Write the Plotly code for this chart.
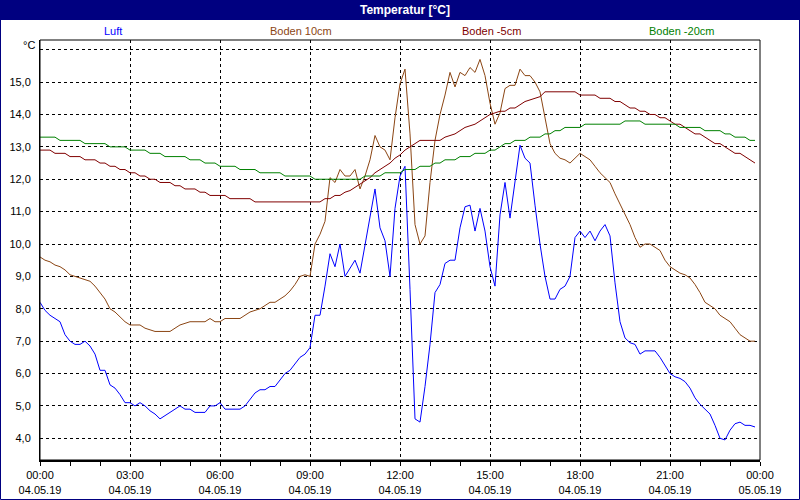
import plotly.graph_objects as go

# ---- data (10-minute readings, 04.05.19 00:00 .. 23:50) ----
times = ["2019-05-04 %02d:%02d" % (i // 6, (i % 6) * 10) for i in range(144)]

luft = [8.2, 7.95, 7.8, 7.7, 7.6, 7.2, 7.0, 6.9, 6.9, 7.0, 6.85, 6.6,
        6.1, 6.1, 5.65, 5.55, 5.35, 5.1, 5.1, 5.0, 5.1, 5.0, 4.85, 4.75,
        4.6, 4.7, 4.8, 4.9, 5.0, 4.9, 4.9, 4.8, 4.8, 4.8, 5.0, 5.0,
        5.1, 4.9, 4.9, 4.9, 4.9, 5.0, 5.2, 5.4, 5.5, 5.5, 5.6, 5.6,
        5.8, 6.0, 6.1, 6.3, 6.5, 6.6, 6.8, 7.8, 7.8, 8.7, 9.7, 9.3,
        10.0, 9.0, 9.25, 9.5, 9.1, 10.0, 10.9, 11.7, 10.5, 10.1, 9.0, 11.1,
        12.1, 12.4, 8.6, 4.6, 4.5, 5.6, 6.9, 8.5, 8.75, 9.4, 9.5, 9.5,
        10.5, 11.15, 11.2, 10.4, 11.1, 10.4, 9.3, 8.7, 10.9, 11.9, 10.8, 11.9,
        13.05, 12.65, 12.5, 11.2, 10.0, 9.0, 8.3, 8.3, 8.6, 8.7, 9.0, 10.2,
        10.4, 10.2, 10.4, 10.1, 10.4, 10.6, 10.25, 8.8, 7.6, 7.1, 6.95, 6.9,
        6.6, 6.7, 6.7, 6.7, 6.5, 6.25, 6.0, 5.9, 5.85, 5.75, 5.55, 5.25,
        5.05, 4.9, 4.75, 4.4, 4.0, 3.95, 4.25, 4.45, 4.5, 4.4, 4.4, 4.35]

boden_10 = [9.6, 9.5, 9.45, 9.35, 9.3, 9.2, 9.05, 9.0, 8.95, 8.9, 8.85, 8.7,
            8.5, 8.3, 8.0, 7.9, 7.75, 7.6, 7.5, 7.5, 7.5, 7.4, 7.35, 7.3,
            7.3, 7.3, 7.3, 7.4, 7.5, 7.55, 7.6, 7.6, 7.6, 7.6, 7.7, 7.6,
            7.6, 7.7, 7.7, 7.7, 7.7, 7.8, 7.9, 7.95, 8.0, 8.1, 8.2, 8.2,
            8.3, 8.4, 8.55, 8.75, 9.0, 9.05, 9.0, 10.0, 10.3, 10.7, 12.05, 11.9,
            12.3, 12.1, 12.1, 12.3, 11.7, 12.1, 12.6, 13.35, 13.0, 12.9, 12.6, 13.9,
            14.95, 15.4, 13.4, 10.6, 10.0, 10.25, 11.9, 13.2, 14.0, 14.6, 15.3, 14.85,
            15.3, 15.2, 15.45, 15.3, 15.7, 15.2, 14.35, 13.7, 14.05, 14.8, 14.9, 14.9,
            15.4, 15.2, 15.2, 15.0, 14.7, 13.9, 13.1, 12.8, 12.65, 12.6, 12.5, 12.65,
            12.8, 12.7, 12.6, 12.4, 12.2, 12.05, 11.9, 11.55, 11.25, 10.95, 10.6, 10.2,
            9.9, 10.0, 10.0, 9.9, 9.8, 9.5, 9.3, 9.2, 9.1, 9.05, 8.95, 8.75,
            8.5, 8.2, 8.1, 8.0, 7.8, 7.7, 7.6, 7.4, 7.2, 7.1, 7.0, 7.0]

boden_m5 = [12.9, 12.9, 12.9, 12.8, 12.8, 12.8, 12.7, 12.7, 12.7, 12.6, 12.6, 12.6,
            12.5, 12.5, 12.4, 12.4, 12.3, 12.3, 12.2, 12.2, 12.1, 12.1, 12.0, 12.0,
            11.9, 11.9, 11.9, 11.8, 11.8, 11.7, 11.7, 11.7, 11.6, 11.6, 11.5, 11.5,
            11.5, 11.5, 11.4, 11.4, 11.4, 11.4, 11.4, 11.3, 11.3, 11.3, 11.3, 11.3,
            11.3, 11.3, 11.3, 11.3, 11.3, 11.3, 11.3, 11.3, 11.3, 11.4, 11.4, 11.5,
            11.5, 11.6, 11.65, 11.75, 11.85, 11.95, 12.05, 12.2, 12.3, 12.4, 12.5, 12.65,
            12.75, 12.9, 13.0, 13.1, 13.2, 13.2, 13.2, 13.2, 13.2, 13.3, 13.35, 13.4,
            13.5, 13.6, 13.65, 13.7, 13.8, 13.9, 14.0, 14.05, 14.1, 14.1, 14.2, 14.2,
            14.3, 14.4, 14.45, 14.5, 14.55, 14.7, 14.7, 14.7, 14.7, 14.7, 14.7, 14.7,
            14.6, 14.6, 14.6, 14.6, 14.5, 14.5, 14.5, 14.4, 14.4, 14.3, 14.2, 14.2,
            14.1, 14.1, 14.0, 14.0, 13.9, 13.9, 13.8, 13.7, 13.7, 13.6, 13.5, 13.4,
            13.4, 13.3, 13.2, 13.1, 13.1, 13.0, 12.9, 12.8, 12.8, 12.7, 12.6, 12.5]

boden_m20 = [13.3, 13.3, 13.3, 13.3, 13.2, 13.2, 13.2, 13.2, 13.2, 13.1, 13.1, 13.1,
             13.1, 13.1, 13.0, 13.0, 13.0, 13.0, 12.9, 12.9, 12.9, 12.9, 12.8, 12.8,
             12.8, 12.7, 12.7, 12.7, 12.7, 12.7, 12.6, 12.6, 12.6, 12.5, 12.5, 12.5,
             12.4, 12.4, 12.4, 12.4, 12.3, 12.3, 12.3, 12.3, 12.2, 12.2, 12.2, 12.2,
             12.2, 12.1, 12.1, 12.1, 12.1, 12.1, 12.1, 12.0, 12.0, 12.0, 12.0, 12.0,
             12.0, 12.0, 12.0, 12.0, 12.0, 12.1, 12.1, 12.1, 12.1, 12.2, 12.2, 12.2,
             12.2, 12.3, 12.3, 12.3, 12.4, 12.4, 12.4, 12.5, 12.5, 12.6, 12.6, 12.6,
             12.7, 12.7, 12.7, 12.8, 12.8, 12.8, 12.9, 12.9, 13.0, 13.1, 13.1, 13.2,
             13.2, 13.2, 13.3, 13.3, 13.3, 13.4, 13.4, 13.5, 13.5, 13.6, 13.6, 13.6,
             13.6, 13.7, 13.7, 13.7, 13.7, 13.7, 13.7, 13.7, 13.7, 13.8, 13.8, 13.8,
             13.8, 13.7, 13.7, 13.7, 13.7, 13.7, 13.7, 13.7, 13.6, 13.6, 13.6, 13.6,
             13.6, 13.5, 13.5, 13.5, 13.5, 13.4, 13.4, 13.3, 13.3, 13.3, 13.2, 13.2]

series_names = ["Luft", "Boden 10cm", "Boden -5cm", "Boden -20cm"]
series_colors = ["#0000FF", "#8B4513", "#800000", "#008000"]

x_tickvals = ["2019-05-04 00:00", "2019-05-04 03:00", "2019-05-04 06:00",
              "2019-05-04 09:00", "2019-05-04 12:00", "2019-05-04 15:00",
              "2019-05-04 18:00", "2019-05-04 21:00", "2019-05-05 00:00"]
x_ticktext = ["00:00<br>04.05.19", "03:00<br>04.05.19", "06:00<br>04.05.19",
              "09:00<br>04.05.19", "12:00<br>04.05.19", "15:00<br>04.05.19",
              "18:00<br>04.05.19", "21:00<br>04.05.19", "00:00<br>05.05.19"]
y_tickvals = [4, 5, 6, 7, 8, 9, 10, 11, 12, 13, 14, 15, 16]
y_ticktext = ["4,0", "5,0", "6,0", "7,0", "8,0", "9,0", "10,0", "11,0",
              "12,0", "13,0", "14,0", "15,0", ""]

# ---- figure ----
W, H = 800, 500
L, R, T, B = 40, 40, 40, 40
PW, PH = W - L - R, H - T - B


def px(xp):
    return (xp - L) / PW


def py(yp):
    return (H - B - yp) / PH


FONT = "Liberation Sans"

fig = go.Figure()
for name, vals, col in zip(series_names, [luft, boden_10, boden_m5, boden_m20], series_colors):
    fig.add_trace(go.Scatter(x=times, y=vals, mode="lines", name=name,
                             line=dict(color=col, width=1), showlegend=False))

fig.update_layout(
    width=W, height=H, autosize=False,
    margin=dict(l=L, r=R, t=T, b=B, pad=0, autoexpand=False),
    paper_bgcolor="white", plot_bgcolor="white",
    font=dict(family=FONT, size=11, color="black"),
    xaxis=dict(
        type="date", range=["2019-05-04 00:00", "2019-05-05 00:00"],
        tickvals=x_tickvals, ticktext=x_ticktext, automargin=False,
        ticks="outside", ticklen=4, tickcolor="black", tickwidth=1,
        showgrid=True, gridcolor="black", gridwidth=1, griddash="3px,3px",
        showline=True, linecolor="black", linewidth=2,
        zeroline=False, tickfont=dict(size=11, color="black"),
        minor=dict(dtick=3600000, ticks="outside", ticklen=4, tickcolor="black",
                   showgrid=False),
    ),
    yaxis=dict(
        range=[3.33, 16.30], automargin=False,
        tickvals=y_tickvals, ticktext=y_ticktext,
        ticks="", showgrid=True, gridcolor="black", gridwidth=1, griddash="3px,3px",
        showline=True, linecolor="black", linewidth=1,
        zeroline=False, ticklabelstandoff=6,
        tickfont=dict(size=11, color="black"),
    ),
)

shapes = [
    # plot frame (top/right)
    dict(type="rect", xref="paper", yref="paper", x0=0, x1=1, y0=0, y1=1,
         line=dict(color="black", width=1), fillcolor="rgba(0,0,0,0)"),
    # title bar
    dict(type="rect", xref="paper", yref="paper", x0=px(0), x1=px(800),
         y0=py(20), y1=py(0), line=dict(width=0), fillcolor="#000080", layer="below"),
    # outer window frame
    dict(type="rect", xref="paper", yref="paper", x0=px(0.5), x1=px(799.5),
         y0=py(499.5), y1=py(0.5), line=dict(color="#000080", width=1),
         fillcolor="rgba(0,0,0,0)"),
]
fig.update_layout(shapes=shapes)

annotations = [
    dict(text="<b>Temperatur [°C]</b>", x=px(405), y=py(10), xref="paper", yref="paper",
         showarrow=False, font=dict(family=FONT, size=12, color="white"),
         xanchor="center", yanchor="middle"),
    dict(text="°C", x=px(37), y=py(45), xref="paper", yref="paper",
         showarrow=False, font=dict(family=FONT, size=11, color="black"),
         xanchor="right", yanchor="middle"),
]
legend_x = [113, 301, 491, 681]
for name, col, lx in zip(series_names, series_colors, legend_x):
    annotations.append(dict(text=name, x=px(lx), y=py(31), xref="paper", yref="paper",
                            showarrow=False, font=dict(family=FONT, size=11, color=col),
                            xanchor="center", yanchor="middle"))
fig.update_layout(annotations=annotations)

fig.write_html("out.html", config={"displayModeBar": False},
               post_script="document.body.style.margin='0px';")
